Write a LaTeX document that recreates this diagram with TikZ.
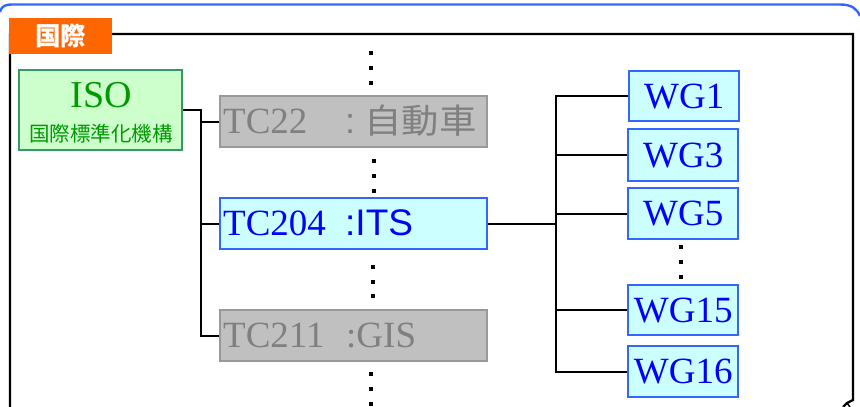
\documentclass[tikz,border=0pt]{standalone}
\usepackage{fontspec}
\setmainfont{Liberation Serif}
\newfontfamily\cjk{Noto Sans CJK JP}
\newfontfamily\sansf{Liberation Sans}
\definecolor{tabor}{HTML}{FF6600}
\definecolor{isoline}{HTML}{339966}
\definecolor{isofill}{HTML}{CCFFCC}
\definecolor{isotext}{HTML}{009900}
\definecolor{gfill}{HTML}{C0C0C0}
\definecolor{gline}{HTML}{999999}
\definecolor{gtext}{HTML}{808080}
\definecolor{cfill}{HTML}{CCFFFF}
\definecolor{cline}{HTML}{3366FF}
\definecolor{ctext}{HTML}{0000FF}
\newcommand{\bigtxt}{\fontsize{37}{40}\selectfont}
\begin{document}
\begin{tikzpicture}[x=1pt,y=-1pt,
  conn/.style={draw=black,line width=2.4pt},
  frameline/.style={draw=black,line width=2.4pt},
  graybox/.style={draw=gline,fill=gfill,line width=2.4pt,minimum width=267pt,minimum height=51pt,anchor=north west,inner sep=0pt},
  cyanbox/.style={draw=cline,fill=cfill,line width=2.4pt,anchor=north west,inner sep=0pt,text=ctext,font=\bigtxt},
  isobox/.style={draw=isoline,fill=isofill,line width=2.4pt,minimum width=163pt,minimum height=80pt,anchor=north west,inner sep=0pt},
  graytext/.style={text=gtext,font=\bigtxt,inner sep=0pt},
  bluetext/.style={text=ctext,font=\bigtxt,inner sep=0pt}]
\useasboundingbox (0,0) rectangle (860,407);
% blue outer frame top
\draw[cline,line width=2.4pt] (0,12) .. controls (2,5) and (6,4.5) .. (14,4.5) -- (840,4.5) .. controls (852,4.5) and (857,9) .. (860,16);
% black frame
\draw[frameline] (10,407) -- (10,34) -- (853,34) -- (853,400) -- (847,403) -- (843,407);
\draw[frameline,line width=1.5pt] (847,403) -- (850,407);
% tab
\node[fill=tabor,minimum width=103pt,minimum height=36pt,anchor=north west,inner sep=0pt,text=white,font=\cjk\bfseries\fontsize{25.5}{27}\selectfont] (tab) at (9,18) {国際};
% ISO
\node[isobox] (iso) at (18,69) {};
\node[anchor=base,inner sep=0pt,text=isotext,font=\fontsize{38}{40}\selectfont] (isot) at (101,107) {ISO};
\node[anchor=center,inner sep=0pt,text=isotext,font=\cjk\fontsize{20.5}{22}\selectfont] (isok) at (101,134) {国際標準化機構};
% TC boxes
\node[graybox] (tc22) at (219,95) {};
\node[graytext,anchor=base west] (tc22a) at (223,133) {TC22};
\node[graytext,anchor=base west,font=\sansf\fontsize{36}{40}\selectfont] (tc22b) at (345,133) {:};
\node[graytext,anchor=base west,font=\cjk\fontsize{34}{40}\selectfont,xscale=1.1] (tc22c) at (364,133) {自動車};
\node[cyanbox,minimum width=267pt,minimum height=51pt] (tc204) at (219,197) {};
\node[bluetext,anchor=base west] (tc204a) at (223,235) {TC204};
\node[bluetext,anchor=base west,font=\sansf\fontsize{37}{40}\selectfont] (tc204b) at (345,235) {:ITS};
\node[graybox] (tc211) at (219,309) {};
\node[graytext,anchor=base west] (tc211a) at (223,347) {TC211};
\node[graytext,anchor=base west] (tc211b) at (346,347) {:GIS};
% WG boxes
\node[cyanbox,minimum width=110pt,minimum height=50pt] (wg1) at (628,70) {WG1};
\node[cyanbox,minimum width=110pt,minimum height=52pt] (wg3) at (627,128) {WG3};
\node[cyanbox,minimum width=110pt,minimum height=51pt] (wg5) at (627,187) {WG5};
\node[cyanbox,minimum width=110pt,minimum height=50pt] (wg15) at (627,284) {WG15};
\node[cyanbox,minimum width=110pt,minimum height=51pt] (wg16) at (627,345) {WG16};
% connectors ISO -> TC
\coordinate (j1) at (201,0);
\draw[conn] (iso.east) -- (j1 |- iso.east) |- (tc211.west);
\draw[conn] (j1 |- tc22.west) -- (tc22.west);
\draw[conn] (j1 |- tc204.west) -- (tc204.west);
% connectors TC204 -> WG
\coordinate (j2) at (556,0);
\draw[conn] (tc204.east) -- (j2 |- tc204.east);
\draw[conn] (wg1.west) -- (j2 |- wg1.west) -- (j2 |- wg16.west) -- (wg16.west);
\draw[conn] (j2 |- wg3.west) -- (wg3.west);
\draw[conn] (j2 |- wg5.west) -- (wg5.west);
\draw[conn] (j2 |- wg15.west) -- (wg15.west);
% dots
\foreach \x/\y in {371/53,371/68,371/83, 374/161,374/176,374/191, 373/267,373/282,373/296, 371/374,371/389,371/404, 681/247,681/262,681/277}
  \fill[black] (\x-1.6,\y-1.6) rectangle (\x+1.6,\y+1.6);
\end{tikzpicture}
\end{document}
